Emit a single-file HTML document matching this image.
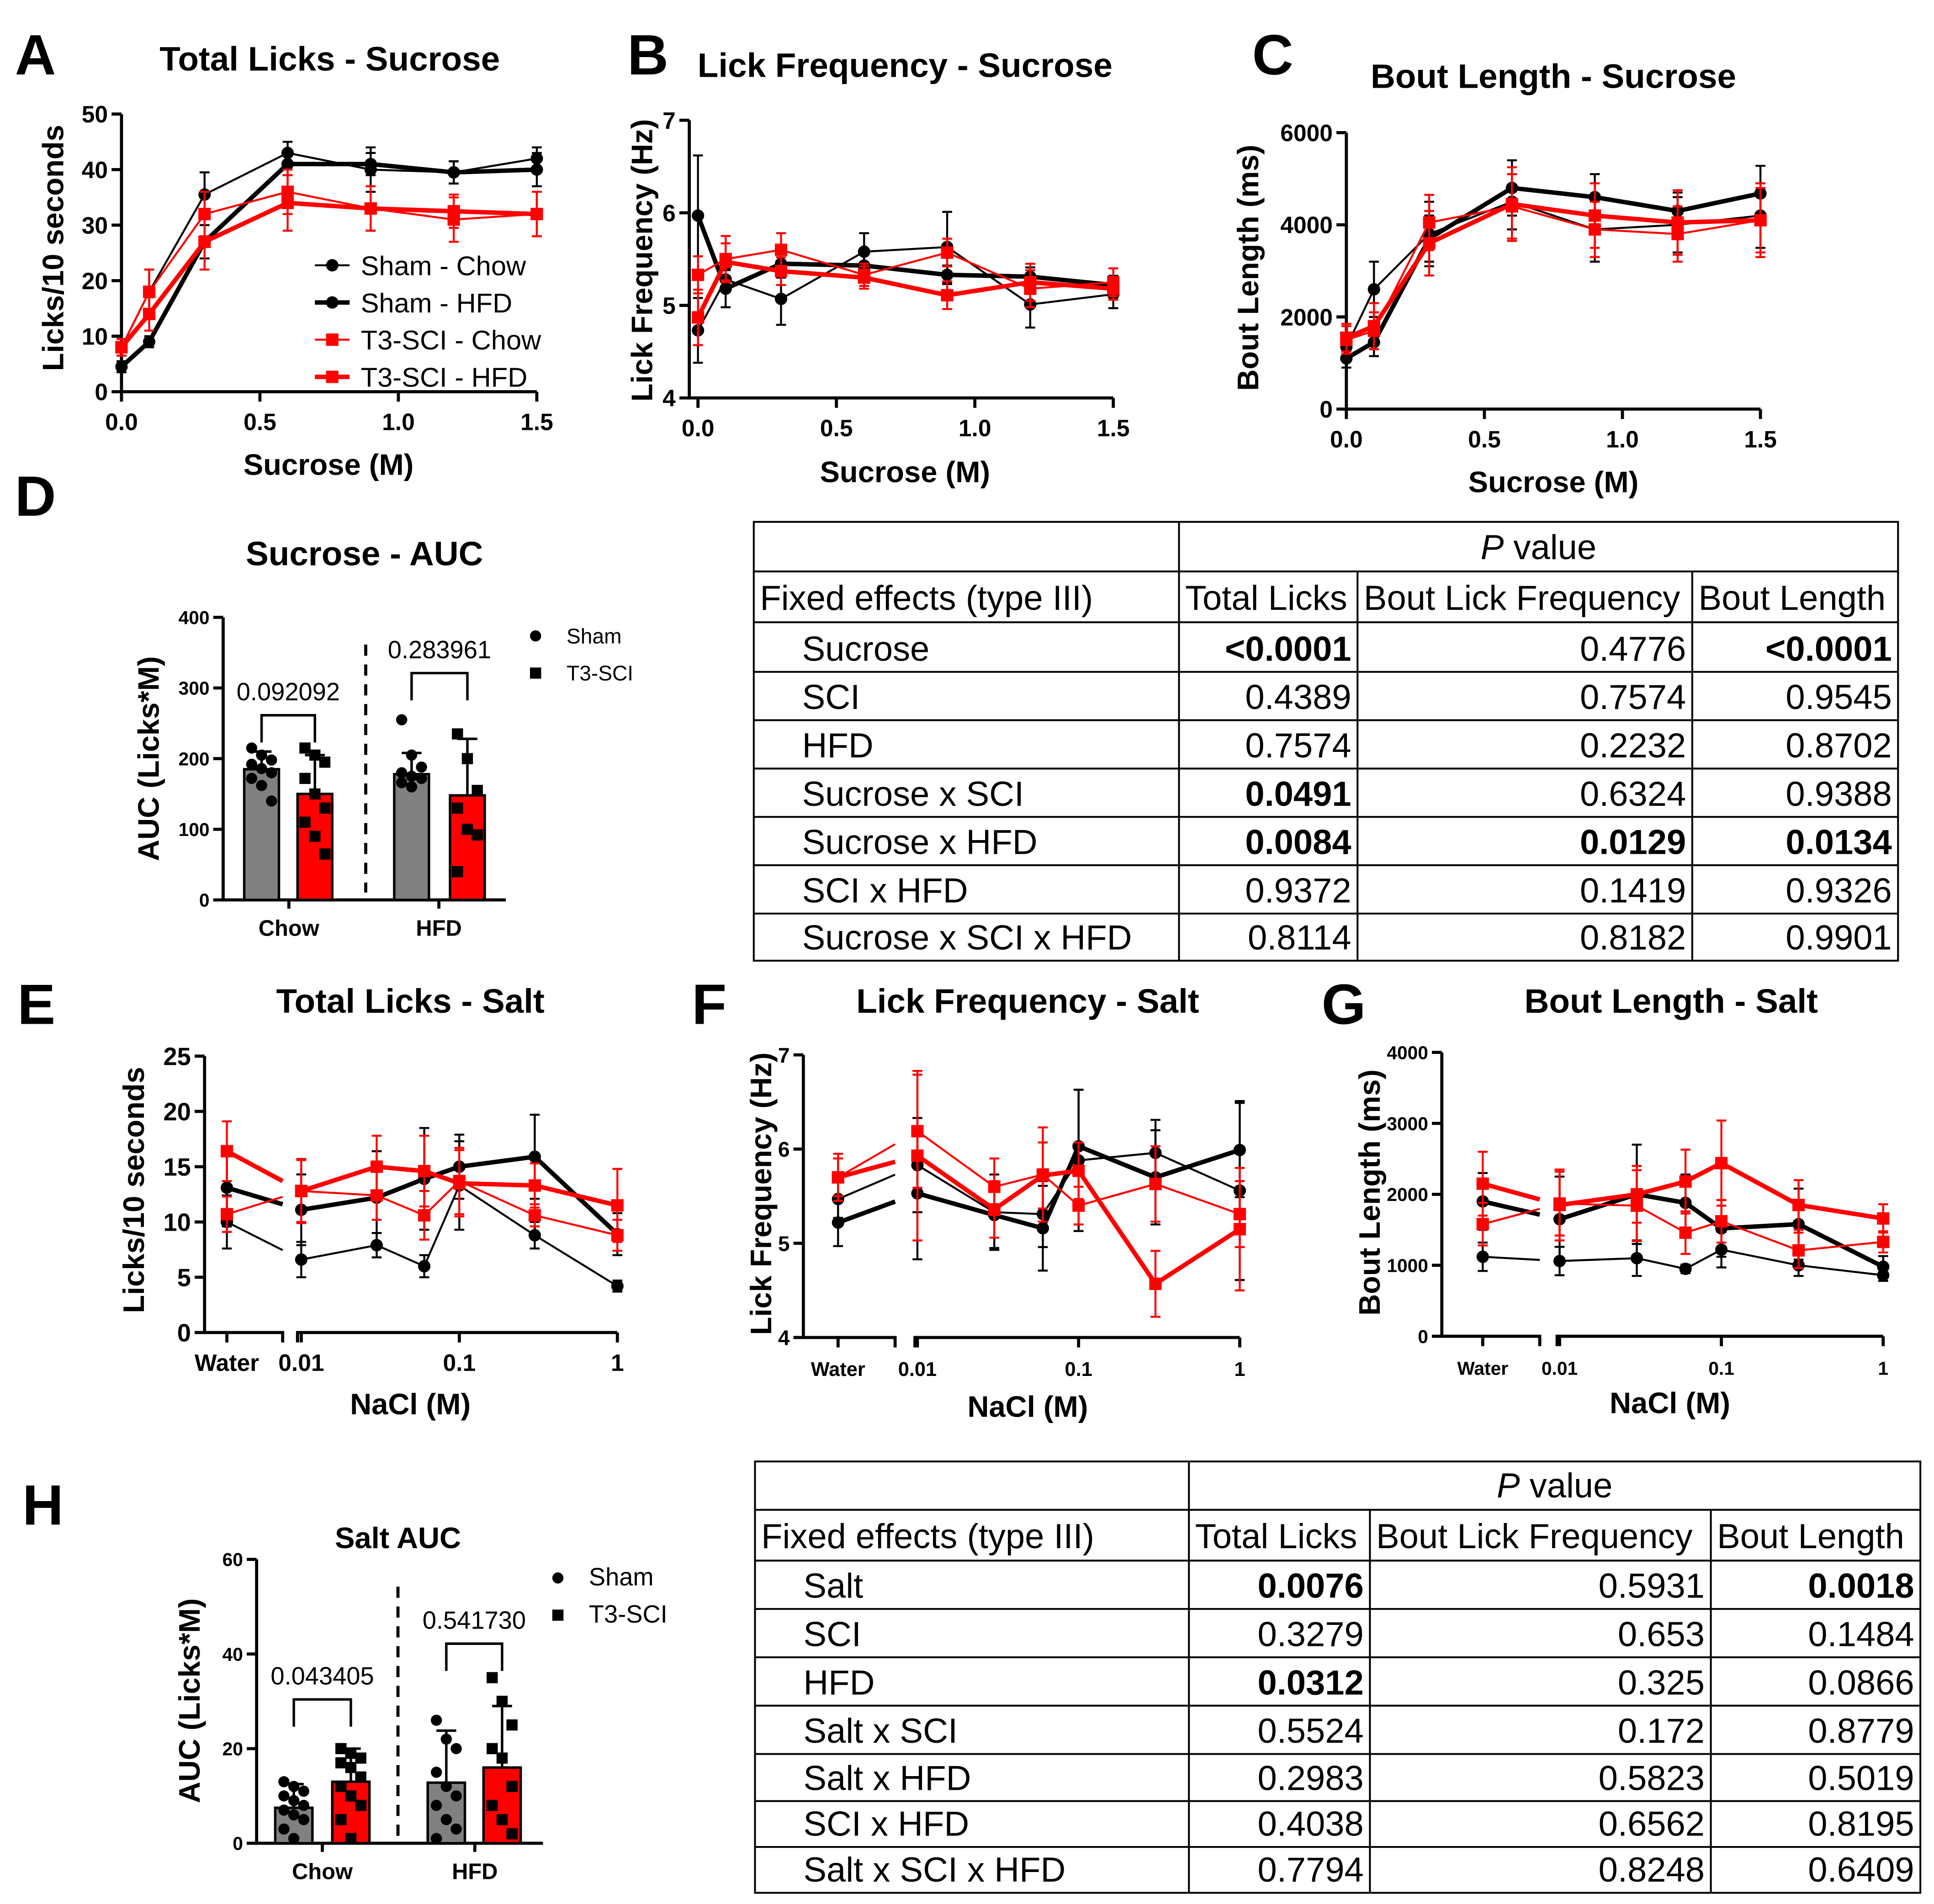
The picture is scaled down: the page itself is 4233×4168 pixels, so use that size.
<!DOCTYPE html>
<html><head><meta charset="utf-8"><style>
html,body{margin:0;padding:0;background:#fff;}
svg{display:block;font-family:"Liberation Sans",Arial,sans-serif;}
.b{font-weight:bold;}
</style></head><body>
<svg id="fig" xmlns="http://www.w3.org/2000/svg" width="4233" height="4168" viewBox="0 0 1560 1536">
<rect x="0" y="0" width="1560" height="1536" fill="#fff"/>
<g class="b" font-size="46">
<text x="12" y="60">A</text>
<text x="506" y="60">B</text>
<text x="1010" y="60">C</text>
<text x="12" y="416">D</text>
<text x="14" y="826">E</text>
<text x="558" y="826">F</text>
<text x="1066" y="826">G</text>
<text x="18" y="1230">H</text>
</g>
<g class="b" font-size="27.5" text-anchor="middle">
<text x="266" y="57">Total Licks - Sucrose</text>
<text x="730" y="62">Lick Frequency - Sucrose</text>
<text x="1253" y="71">Bout Length - Sucrose</text>
<text x="294" y="456">Sucrose - AUC</text>
<text x="331" y="817">Total Licks - Salt</text>
<text x="829" y="817">Lick Frequency - Salt</text>
<text x="1348" y="817">Bout Length - Salt</text>
<text x="321" y="1249" font-size="24">Salt AUC</text>
</g>
<g class="b" font-size="24" text-anchor="middle">
<text x="265" y="383">Sucrose (M)</text>
<text x="730" y="389">Sucrose (M)</text>
<text x="1253" y="397">Sucrose (M)</text>
<text x="331" y="1141">NaCl (M)</text>
<text x="829" y="1143">NaCl (M)</text>
<text x="1347" y="1140">NaCl (M)</text>
<text transform="translate(51,200) rotate(-90)">Licks/10 seconds</text>
<text transform="translate(526,210) rotate(-90)">Lick Frequency (Hz)</text>
<text transform="translate(1015,216) rotate(-90)">Bout Length (ms)</text>
<text transform="translate(128,612) rotate(-90)">AUC (Licks*M)</text>
<text transform="translate(116,960) rotate(-90)">Licks/10 seconds</text>
<text transform="translate(622,963) rotate(-90)">Lick Frequency (Hz)</text>
<text transform="translate(1113,962) rotate(-90)">Bout Length (ms)</text>
<text transform="translate(161,1372) rotate(-90)">AUC (Licks*M)</text>
</g>
</svg>
<script>
// ---------- data: sucrose curves ----------
const sucX=[0,0.1,0.3,0.6,0.9,1.2,1.5];
const sucTicks=[0,0.5,1,1.5];
const sucTickLabels=["0.0","0.5","1.0","1.5"];
const A_shamChow=[8,18,35.5,43,40,39.5,42];
const A_shamChowErr=[1.5,4,4,2,4,2,2];
const A_shamHFD=[4.5,9,27,41,41,39.5,40];
const A_shamHFDErr=[1,1,3,2,2,2,3];
const A_sciChow=[8,18,32,36,33,31,32];
const A_sciChowErr=[1.5,4,4,4,4,4,4];
const A_sciHFD=[8,14,27,34,33,32.5,32];
const A_sciHFDErr=[1.5,3,5,5,4,3,4];
const A_yTicks=[0,10,20,30,40,50];
const B_shamChow=[4.73,5.28,5.07,5.58,5.63,5.01,5.12];
const B_shamChowErr=[0.35,0.12,0.28,0.2,0.38,0.25,0.15];
const B_shamHFD=[5.97,5.18,5.45,5.43,5.33,5.31,5.22];
const B_shamHFDErr=[0.65,0.2,0.15,0.12,0.1,0.1,0.1];
const B_sciChow=[5.33,5.5,5.6,5.33,5.57,5.18,5.25];
const B_sciChowErr=[0.2,0.25,0.18,0.12,0.15,0.2,0.15];
const B_sciHFD=[4.87,5.47,5.37,5.3,5.11,5.25,5.18];
const B_sciHFDErr=[0.3,0.2,0.15,0.12,0.15,0.2,0.12];
const B_yTicks=[4,5,6,7];
const C_shamChow=[1350,2600,3800,4500,3900,4000,4200];
const C_shamChowErr=[300,600,700,600,700,600,700];
const C_shamHFD=[1100,1450,3700,4800,4600,4300,4680];
const C_shamHFDErr=[200,300,500,600,500,400,600];
const C_sciChow=[1500,1700,4050,4400,3900,3800,4100];
const C_sciChowErr=[300,400,600,700,600,600,700];
const C_sciHFD=[1550,1800,3600,4450,4200,4050,4100];
const C_sciHFDErr=[300,500,700,800,700,700,800];
const C_yTicks=[0,2000,4000,6000];
// ---------- data: salt curves ----------
const saltConc=["Water",0.01,0.03,0.06,0.1,0.3,1];
const saltTicks=[0.01,0.1,1];
const saltTickLabels=["0.01","0.1","1"];
const E_shamChow=[10.0,6.6,7.9,6.0,13.3,8.8,4.2];
const E_shamChowErr=[2.4,1.6,1.1,1.0,4.0,1.2,0.5];
const E_shamHFD=[13.1,11.1,12.2,13.9,15.0,15.9,8.9];
const E_shamHFDErr=[3.5,3.2,4.2,4.6,2.9,3.8,1.9];
const E_sciChow=[10.7,12.8,12.4,10.6,13.7,10.6,8.8];
const E_sciChowErr=[1.6,2.8,2.2,2.2,3.0,1.0,1.4];
const E_sciHFD=[16.4,12.8,15.0,14.6,13.5,13.3,11.5];
const E_sciHFDErr=[2.7,2.9,2.8,3.2,3.0,2.0,3.3];
const E_yTicks=[0,5,10,15,20,25];
const F_shamChow=[5.47,5.83,5.33,5.31,5.88,5.96,5.56];
const F_shamChowErr=[0.2,0.5,0.4,0.35,0.75,0.35,0.95];
const F_shamHFD=[5.22,5.53,5.3,5.16,6.03,5.7,5.99];
const F_shamHFDErr=[0.25,0.7,0.35,0.45,0.6,0.5,0.5];
const F_sciChow=[5.7,6.19,5.6,5.73,5.4,5.63,5.31];
const F_sciChowErr=[0.25,0.6,0.3,0.5,0.2,0.4,0.35];
const F_sciHFD=[5.7,5.93,5.36,5.72,5.77,4.57,5.15];
const F_sciHFDErr=[0.2,0.9,0.3,0.35,0.3,0.35,0.65];
const F_yTicks=[4,5,6,7];
const G_shamChow=[1120,1060,1100,950,1220,1000,860];
const G_shamChowErr=[200,200,250,60,250,150,80];
const G_shamHFD=[1900,1650,2000,1880,1520,1580,980];
const G_shamHFDErr=[400,600,700,400,400,500,150];
const G_sciChow=[1580,1870,1840,1460,1620,1210,1330];
const G_sciChowErr=[300,450,500,300,300,250,150];
const G_sciHFD=[2150,1850,2000,2180,2440,1850,1660];
const G_sciHFDErr=[450,500,400,450,600,350,200];
const G_yTicks=[0,1000,2000,3000,4000];
// ---------- data: AUC bars ----------
const aucGroups=["Chow","HFD"];
const D_means=[185,150,178,148];
const D_sd=[25,55,30,80];
const D_pts=[[215,205,198,192,186,180,172,162,140],[215,205,195,172,150,130,110,90,65],[255,205,188,180,175,172,166,160],[235,200,155,130,100,92,40]];
const D_pLabels=["0.092092","0.283961"];
const D_yTicks=[0,100,200,300,400];
const H_means=[7.5,13,12.8,16];
const H_sd=[5,7,11,13];
const H_pts=[[13,12,11,10,9,8,7,6,5,3,1],[20,19,18,17,16,14,12,10,8,5,1],[26,22,20,15,12,10,8,5,3,1],[35,30,25,20,18,12,8,5,2]];
const H_pLabels=["0.043405","0.541730"];
const H_yTicks=[0,20,40,60];
// ---------- data: tables ----------
const t1Effects=["Sucrose","SCI","HFD","Sucrose x SCI","Sucrose x HFD","SCI x HFD","Sucrose x SCI x HFD"];
const t1Total=["<0.0001","0.4389","0.7574","0.0491","0.0084","0.9372","0.8114"];
const t1Freq=["0.4776","0.7574","0.2232","0.6324","0.0129","0.1419","0.8182"];
const t1Bout=["<0.0001","0.9545","0.8702","0.9388","0.0134","0.9326","0.9901"];
const t2Effects=["Salt","SCI","HFD","Salt x SCI","Salt x HFD","SCI x HFD","Salt x SCI x HFD"];
const t2Total=["0.0076","0.3279","0.0312","0.5524","0.2983","0.4038","0.7794"];
const t2Freq=["0.5931","0.653","0.325","0.172","0.5823","0.6562","0.8248"];
const t2Bout=["0.0018","0.1484","0.0866","0.8779","0.5019","0.8195","0.6409"];

const svg=document.getElementById('fig');
const NS='http://www.w3.org/2000/svg';
function mk(tag,attrs,parent){const e=document.createElementNS(NS,tag);for(const k in attrs)e.setAttribute(k,attrs[k]);(parent||svg).appendChild(e);return e;}
function tx(s,attrs,parent){const e=mk('text',attrs,parent);e.textContent=s;return e;}
function lin(a,b,p,q){return v=>p+(v-a)*(q-p)/(b-a);}

function yAxis(g,x,yf,ticks,fs,name){
  const l=mk('line',{x1:x,x2:x,y1:yf(ticks[ticks.length-1]),y2:yf(ticks[0])+1,stroke:'#000','stroke-width':2.5},g);
  
  
  ticks.forEach(t=>{
    const k=mk('line',{x1:x-8,x2:x,y1:yf(t),y2:yf(t),stroke:'#000','stroke-width':2.5},g);
    
    
    const lb=tx(String(t),{x:x-11,y:yf(t)+fs*0.36,'text-anchor':'end','font-size':fs,'font-weight':'bold'},g);
    
    
  });
}
function drawSeries(g,px,py,errs,color,lw,marker,name,breakPts){
  for(let i=0;i<px.length;i++){
    const eb=mk('path',{d:`M${px[i]} ${py[i][1]}V${py[i][2]}M${px[i]-4} ${py[i][1]}h8M${px[i]-4} ${py[i][2]}h8`,stroke:color,'stroke-width':1.6,fill:'none'},g);
    
    
  }
  let d='';
  for(let i=0;i<px.length;i++){
    if(i===1&&breakPts){
      const [b1,b2]=breakPts;
      const f=(xx)=>py[0][0]+(py[1][0]-py[0][0])*(xx-px[0])/(px[1]-px[0]);
      d+=`L${b1} ${f(b1)}M${b2} ${f(b2)}L${px[1]} ${py[1][0]}`;
    } else d+=(i?'L':'M')+px[i]+' '+py[i][0];
  }
  const ln=mk('path',{d:d,stroke:color,'stroke-width':lw,fill:'none','stroke-linejoin':'round'},g);
  
  
  for(let i=0;i<px.length;i++){
    let m;
    if(marker==='c') m=mk('circle',{cx:px[i],cy:py[i][0],r:5,fill:'#000'},g);
    else m=mk('rect',{x:px[i]-5,y:py[i][0]-5,width:10,height:10,fill:'#ff0000'},g);
    
    
  }
}
function sucChart(name,x0,x1,yAx,y0,y1,ticks,series,fs){
  const g=mk('g',{});
  
  
  const xf=lin(0,1.5,x0,x1), yf=lin(ticks[0],ticks[ticks.length-1],y0,y1);
  yAxis(g,yAx,yf,ticks,fs,name);
  const xl=mk('line',{x1:yAx-1,x2:x1,y1:y0,y2:y0,stroke:'#000','stroke-width':2.5},g);
  
  
  sucTicks.forEach((t,i)=>{
    const k=mk('line',{x1:xf(t),x2:xf(t),y1:y0,y2:y0+8,stroke:'#000','stroke-width':2.5},g);
    
    
    const lb=tx(sucTickLabels[i],{x:xf(t),y:y0+31,'text-anchor':'middle','font-size':19,'font-weight':'bold'},g);
    
    
  });
  series.forEach(s=>{
    const px=sucX.map(xf);
    const py=s.v.map((v,i)=>[yf(v),yf(v+s.e[i]),yf(v-s.e[i])]);
    drawSeries(g,px,py,s.e,s.c,s.w,s.m,name+'-'+s.n,null);
  });
}
function saltChart(name,yAx,water,wEnd,lStart,x001,x1,y0,y1,ticks,series,fs,xfs){
  const g=mk('g',{});
  
  
  const yf=lin(ticks[0],ticks[ticks.length-1],y0,y1);
  const lx=lin(-2,0,x001,x1);
  const xf=c=>c==='Water'?water:lx(Math.log10(c));
  yAxis(g,yAx,yf,ticks,fs,name);
  const xa=mk('path',{d:`M${yAx-1} ${y0}H${wEnd}v8M${lStart} ${y0+8}v-8H${x1}`,stroke:'#000','stroke-width':2.5,fill:'none'},g);
  
  
  const wt=mk('line',{x1:water,x2:water,y1:y0,y2:y0+8,stroke:'#000','stroke-width':2.5},g);
  
  
  const wl=tx('Water',{x:water,y:y0+31,'text-anchor':'middle','font-size':xfs,'font-weight':'bold'},g);
  
  
  saltTicks.forEach((t,i)=>{
    const k=mk('line',{x1:xf(t),x2:xf(t),y1:y0,y2:y0+8,stroke:'#000','stroke-width':2.5},g);
    
    
    const lb=tx(saltTickLabels[i],{x:xf(t),y:y0+31,'text-anchor':'middle','font-size':xfs,'font-weight':'bold'},g);
    
    
  });
  series.forEach(s=>{
    const px=saltConc.map(xf);
    const py=s.v.map((v,i)=>[yf(v),yf(v+s.e[i]),yf(v-s.e[i])]);
    drawSeries(g,px,py,s.e,s.c,s.w,s.m,name+'-'+s.n,[wEnd,lStart]);
  });
}
function ser(sc,sce,sh,she,rc,rce,rh,rhe){
  return [{n:'sham-chow',v:sc,e:sce,c:'#000',w:1.6,m:'c'},{n:'sham-hfd',v:sh,e:she,c:'#000',w:3.6,m:'c'},
          {n:'sci-chow',v:rc,e:rce,c:'#ff0000',w:1.6,m:'s'},{n:'sci-hfd',v:rh,e:rhe,c:'#ff0000',w:3.6,m:'s'}];
}
sucChart('total-licks-sucrose',98,433,98,316,92,A_yTicks,ser(A_shamChow,A_shamChowErr,A_shamHFD,A_shamHFDErr,A_sciChow,A_sciChowErr,A_sciHFD,A_sciHFDErr),19);
sucChart('lick-frequency-sucrose',563,898,556,321,97,B_yTicks,ser(B_shamChow,B_shamChowErr,B_shamHFD,B_shamHFDErr,B_sciChow,B_sciChowErr,B_sciHFD,B_sciHFDErr),19);
sucChart('bout-length-sucrose',1086,1420,1086,330,107,C_yTicks,ser(C_shamChow,C_shamChowErr,C_shamHFD,C_shamHFDErr,C_sciChow,C_sciChowErr,C_sciHFD,C_sciHFDErr),19);
saltChart('total-licks-salt',165,183,228,240,243,498,1075,852,E_yTicks,ser(E_shamChow,E_shamChowErr,E_shamHFD,E_shamHFDErr,E_sciChow,E_sciChowErr,E_sciHFD,E_sciHFDErr),20,19);
saltChart('lick-frequency-salt',648,676,722,738,740,1000,1079,851,F_yTicks,ser(F_shamChow,F_shamChowErr,F_shamHFD,F_shamHFDErr,F_sciChow,F_sciChowErr,F_sciHFD,F_sciHFDErr),17,16);
saltChart('bout-length-salt',1163,1196,1242,1256,1258,1519,1078,849,G_yTicks,ser(G_shamChow,G_shamChowErr,G_shamHFD,G_shamHFDErr,G_sciChow,G_sciChowErr,G_sciHFD,G_sciHFDErr),15,15);

const legNames=["Sham - Chow","Sham - HFD","T3-SCI - Chow","T3-SCI - HFD"];
const legStyle=[['#000',1.6,'c'],['#000',3.6,'c'],['#ff0000',1.6,'s'],['#ff0000',3.6,'s']];
legNames.forEach((n,i)=>{
  const y=214+i*30;
  const g=mk('g',{});
  
  
  mk('line',{x1:254,x2:282,y1:y,y2:y,stroke:legStyle[i][0],'stroke-width':legStyle[i][1]},g);
  if(legStyle[i][2]==='c') mk('circle',{cx:268,cy:y,r:5,fill:'#000'},g);
  else mk('rect',{x:263,y:y-5,width:10,height:10,fill:'#ff0000'},g);
  tx(n,{x:291,y:y+8,'font-size':22},g);
});

function barChart(name,yAx,xEnd,y0,y1,ticks,centers,bw,means,sd,pts,pLabels,brY,dashX,legX,legY,legFs,groupX,fs){
  const g=mk('g',{});
  
  
  const yf=lin(ticks[0],ticks[ticks.length-1],y0,y1);
  yAxis(g,yAx,yf,ticks,fs,name);
  const xa=mk('line',{x1:yAx-1,x2:xEnd,y1:y0,y2:y0,stroke:'#000','stroke-width':2.5},g);
  
  
  aucGroups.forEach((gn,i)=>{
    const k=mk('line',{x1:groupX[i],x2:groupX[i],y1:y0,y2:y0+7,stroke:'#000','stroke-width':2.5},g);
    
    
    const lb=tx(gn,{x:groupX[i],y:y0+29,'text-anchor':'middle','font-size':18,'font-weight':'bold'},g);
    
    
  });
  means.forEach((m,i)=>{
    const cx=centers[i];
    const r=mk('rect',{x:cx-bw/2,y:yf(m),width:bw,height:y0-yf(m),fill:i%2?'#ff0000':'#808080',stroke:'#000','stroke-width':2},g);
    
    
    const e=mk('path',{d:`M${cx} ${yf(m)}V${yf(m+sd[i])}M${cx-8} ${yf(m+sd[i])}h16`,stroke:'#000','stroke-width':2,fill:'none'},g);
    
    
    pts[i].forEach((v,j)=>{
      const off=((j%3)-1)*8;
      let p;
      if(i%2===0) p=mk('circle',{cx:cx+off,cy:yf(v),r:4.5,fill:'#000'},g);
      else p=mk('rect',{x:cx+off-4.5,y:yf(v)-4.5,width:9,height:9,fill:'#000'},g);
      
      
    });
  });
  const dl=mk('line',{x1:dashX,x2:dashX,y1:y1+22,y2:y0-6,stroke:'#000','stroke-width':2.5,'stroke-dasharray':'9,7'},g);
  
  
  [0,1].forEach(k=>{
    const a=centers[2*k],b=centers[2*k+1];
    const br=mk('path',{d:`M${a} ${brY[k]+22}V${brY[k]}H${b}V${brY[k]+22}`,stroke:'#000','stroke-width':2,fill:'none'},g);
    
    
    const pl=tx(pLabels[k],{x:(a+b)/2,y:brY[k]-12,'text-anchor':'middle','font-size':20},g);
    
    
  });
  const lc=mk('circle',{cx:legX,cy:legY,r:4.5,fill:'#000'},g);
  
  
  const lt=tx('Sham',{x:legX+25,y:legY+6,'font-size':legFs},g);
  
  
  const ls=mk('rect',{x:legX-4.5,y:legY+30-4.5,width:9,height:9,fill:'#000'},g);
  
  
  const lt2=tx('T3-SCI',{x:legX+25,y:legY+36,'font-size':legFs},g);
  
  
}
barChart('sucrose-auc',180,408,726,498,D_yTicks,[211,254,332,377],28,D_means,D_sd,D_pts,D_pLabels,[577,543],295,432,513,17,[233,354],15);
barChart('salt-auc',207,438,1487,1258,H_yTicks,[237,283,360,405],30,H_means,H_sd,H_pts,H_pLabels,[1371,1326],321,450,1273,20,[260,383],15);

function table(name,x,ys,effects,c1,c2,c3){
  const g=mk('g',{});
  
  
  const W=x[x.length-1]-x[0];
  const top=ys[0],bot=ys[ys.length-1];
  mk('rect',{x:x[0],y:top,width:W,height:bot-top,fill:'none',stroke:'#000','stroke-width':1.5},g);
  ys.slice(1,-1).forEach(y=>mk('line',{x1:x[0],x2:x[4],y1:y,y2:y,stroke:'#000','stroke-width':1.5},g));
  mk('line',{x1:x[1],x2:x[1],y1:top,y2:bot,stroke:'#000','stroke-width':1.5},g);
  mk('line',{x1:x[2],x2:x[2],y1:ys[1],y2:bot,stroke:'#000','stroke-width':1.5},g);
  mk('line',{x1:x[3],x2:x[3],y1:ys[1],y2:bot,stroke:'#000','stroke-width':1.5},g);
  const fs=28;
  const h=tx('',{x:(x[1]+x[4])/2,y:ys[1]-10,'text-anchor':'middle','font-size':fs},g);
  h.innerHTML='<tspan font-style="italic">P</tspan>  value';
  
  
  const hd=["Fixed effects (type III)","Total Licks","Bout Lick Frequency","Bout Length"];
  hd.forEach((s,i)=>{
    const t=tx(s,{x:x[i]+5,y:ys[2]-10,'font-size':fs},g);
    
    
  });
  effects.forEach((e,r)=>{
    const yb=ys[r+3]-9;
    const t=tx(e,{x:x[0]+39,y:yb,'font-size':fs},g);
    
    
    [c1,c2,c3].forEach((col,k)=>{
      const v=col[r];
      const bold=v.startsWith('<')||parseFloat(v)<0.05;
      const c=tx(v,{x:x[k+2]-5,y:yb,'text-anchor':'end','font-size':fs,'font-weight':bold?'bold':'normal'},g);
      
      
    });
  });
}
table('sucrose-stats-table',[608,951,1095,1365,1531],[421,461,502,542,581,620,659,698,737,775],t1Effects,t1Total,t1Freq,t1Bout);
table('salt-stats-table',[609,959,1105,1380,1549],[1179,1218,1259,1298,1337,1376,1415,1453,1490,1527],t2Effects,t2Total,t2Freq,t2Bout);
</script>
</body></html>
